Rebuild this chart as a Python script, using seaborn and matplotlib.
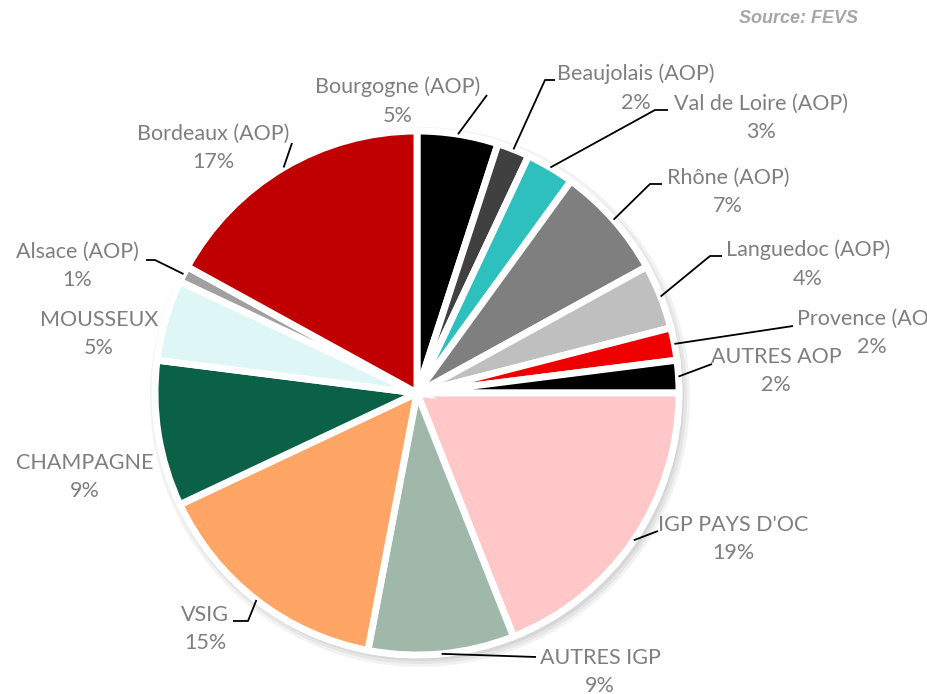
import numpy as np
import matplotlib
matplotlib.use("Agg")
import matplotlib.pyplot as plt
import seaborn as sns
from matplotlib.patches import Circle

# data: share of volumes by category (clockwise from 12 o'clock)
categories = ["Bourgogne (AOP)", "Beaujolais (AOP)", "Val de Loire (AOP)", "Rhône (AOP)",
              "Languedoc (AOP)", "Provence (AOP)", "AUTRES AOP", "IGP PAYS D'OC",
              "AUTRES IGP", "VSIG", "CHAMPAGNE", "MOUSSEUX", "Alsace (AOP)", "Bordeaux (AOP)"]
shares = [5, 2, 3, 7, 4, 2, 2, 19, 9, 15, 9, 5, 1, 17]
colors = ["#000000", "#404040", "#2ebfbf", "#7f7f7f", "#bfbfbf", "#ee0000", "#000000",
          "#ffc7c7", "#9fb8aa", "#ffa566", "#0b6145", "#dff6f6", "#a0a0a0", "#c00000"]

# label layout in pixel coords (y from top): text centre, leader elbow, leader end
label_pos = [(398, 101), (636, 88), (761, 118), (728, 192), (808, 264), (872, 333),
             (776, 371), (733, 539), (600, 672), (205, 629), (85, 477), (99, 334),
             (77, 266), (213, 148)]
leaders = [[(487, 95)], [(545, 80), (555, 80)], [(655, 110), (668, 110)],
           [(650, 184), (662, 184)], [(710, 256), (722, 256)], [(793, 326)],
           [(712, 364)], [(658, 531)], [(536, 657)], [(248, 621), (233, 621)],
           None, None, [(155, 260), (146, 260)], [(292, 143)]]

W, H = 928, 694
cx, cy, R = 417, 393, 262

sns.set_theme(style="white")
plt.rcParams['font.family'] = ['Lato', 'DejaVu Sans']

fig = plt.figure(figsize=(W / 100, H / 100), dpi=100)
ax = fig.add_axes([0, 0, 1, 1])

# soft shadow
for i, a in enumerate([0.05, 0.05, 0.06]):
    ax.add_patch(Circle((cx + 3, H - cy - 4), R + 8 - 3 * i, color="#000000", alpha=a, lw=0, zorder=0))
ax.add_patch(Circle((cx, H - cy), R + 3, color="white", lw=0, zorder=0.5))

wedges, _ = ax.pie(shares, colors=colors, startangle=90, counterclock=False,
                   radius=R, center=(cx, H - cy),
                   wedgeprops=dict(edgecolor="white", linewidth=5))

txt_color = "#7f7f7f"
for w, name, val, pos, ld in zip(wedges, categories, shares, label_pos, leaders):
    ax.text(pos[0], H - pos[1], f"{name}\n{val}%", ha="center", va="center",
            fontsize=15.5, color=txt_color, linespacing=1.55, clip_on=False)
    if ld is None:
        continue
    mid = np.deg2rad((w.theta1 + w.theta2) / 2)
    start = (cx + R * np.cos(mid), H - cy + R * np.sin(mid))
    xs = [start[0]] + [p[0] for p in ld]
    ys = [start[1]] + [H - p[1] for p in ld]
    ax.plot(xs, ys, color="black", lw=1.3, solid_capstyle="butt")

ax.text(858, H - 18, "Source: FEVS", ha="right", va="center", fontsize=13,
        fontstyle="italic", fontweight="bold", color="#a6a6a6",
        family=["Liberation Sans", "DejaVu Sans"])

ax.set_xlim(0, W)
ax.set_ylim(0, H)
ax.set_aspect("equal")
ax.axis("off")
fig.savefig("out.png", dpi=100)
